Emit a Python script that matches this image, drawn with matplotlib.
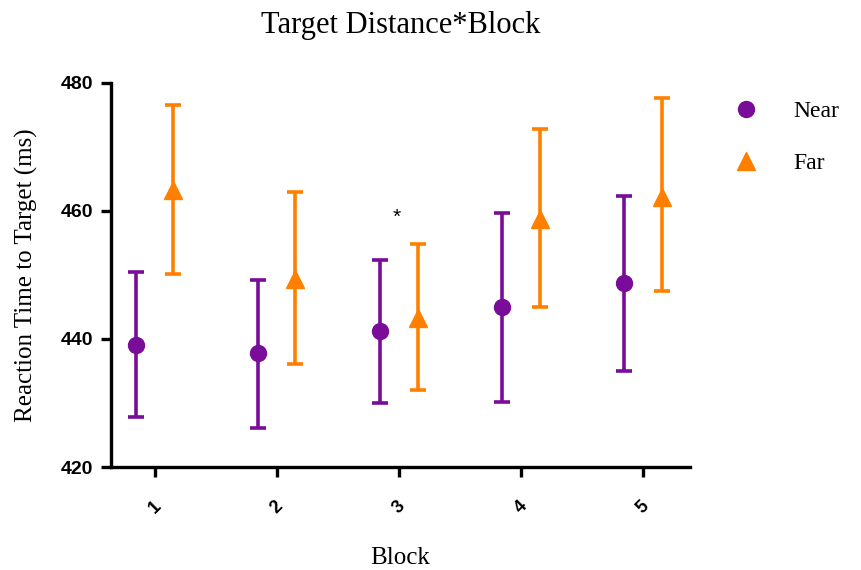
import matplotlib
matplotlib.use("Agg")
import matplotlib.pyplot as plt
from matplotlib.lines import Line2D
import numpy as np

blocks = [1, 2, 3, 4, 5]
block_labels = ["1", "2", "3", "4", "5"]
near_mean = [439.1, 437.8, 441.2, 445.0, 448.8]
near_upper = [450.5, 449.2, 452.4, 459.7, 462.4]
near_lower = [427.8, 426.1, 430.0, 430.2, 435.0]
far_mean = [463.3, 449.4, 443.3, 458.7, 462.2]
far_upper = [476.6, 463.0, 454.9, 472.8, 477.7]
far_lower = [450.2, 436.1, 432.0, 445.0, 447.5]
series_names = ["Near", "Far"]
star_block = 3
star_y = 459.0
y_ticks = [420, 440, 460, 480]

purple = "#7A0C9A"
orange = "#FF8000"

fig = plt.figure(figsize=(8.61, 5.70), dpi=100)
ax = fig.add_axes([0.1289, 0.1807, 0.6725, 0.6737])

x = np.array(blocks, dtype=float)
off = 0.152
nm = np.array(near_mean); fm = np.array(far_mean)
near_err = [nm - np.array(near_lower), np.array(near_upper) - nm]
far_err = [fm - np.array(far_lower), np.array(far_upper) - fm]

ax.errorbar(x - off, nm, yerr=near_err, fmt='o', color=purple, ms=11.5,
            elinewidth=2.6, capsize=5.8, capthick=2.6, zorder=3)
ax.errorbar(x + off, fm, yerr=far_err, fmt='^', color=orange, ms=12.5,
            elinewidth=2.6, capsize=5.8, capthick=2.6, zorder=3)

ax.text(star_block - 0.02, star_y, "*", ha='center', va='center', fontsize=15,
        family="Liberation Sans")

ax.set_xlim(0.64, 5.385)
ax.set_ylim(420, 480)
ax.set_yticks(y_ticks)
ax.set_yticklabels([str(v) for v in y_ticks], fontsize=14, fontweight='bold',
                   family="Liberation Sans")
ax.set_xticks(blocks)
ax.set_xticklabels(block_labels, rotation=45, fontsize=13, fontweight='bold',
                   family="Liberation Sans", ha='center', va='center')
ax.tick_params(axis='x', pad=22)
ax.tick_params(axis='both', direction='out', length=7, width=2.4, color='black')
ax.tick_params(axis='y', pad=6)

for s in ['top', 'right']:
    ax.spines[s].set_visible(False)
for s in ['left', 'bottom']:
    ax.spines[s].set_linewidth(2.4)

ax.set_ylabel("Reaction Time to Target (ms)", fontsize=18, family="Liberation Serif",
              labelpad=16)
ax.set_xlabel("Block", fontsize=18, family="Liberation Serif", labelpad=22)
fig.text(0.465, 0.955, "Target Distance*Block", ha='center', va='center',
         fontsize=22, family="Liberation Serif")

handles = [Line2D([], [], linestyle='none', marker='o', color=purple, ms=11.5),
           Line2D([], [], linestyle='none', marker='^', color=orange, ms=12.5)]
leg = ax.legend(handles, series_names, loc='upper left', bbox_to_anchor=(1.04, 1.01),
                frameon=False, prop={'family': 'Liberation Serif', 'size': 17},
                labelspacing=1.3, handletextpad=1.5, handlelength=1.0)

fig.savefig("out.png", dpi=100)
